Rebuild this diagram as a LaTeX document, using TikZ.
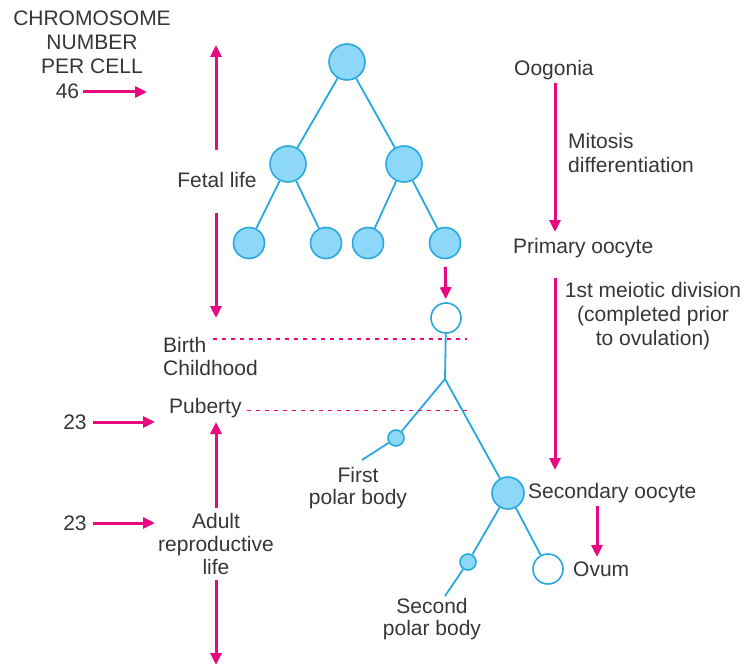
\documentclass[tikz,border=0pt]{standalone}
\usepackage{fontspec}
\setmainfont{Liberation Sans}
\usetikzlibrary{arrows.meta}
\definecolor{pinkc}{HTML}{E6097F}
\definecolor{bluel}{HTML}{29A8E0}
\definecolor{bluef}{HTML}{8DD8F8}
\definecolor{txt}{HTML}{363636}
\begin{document}
\begin{tikzpicture}[x=1pt,y=-1pt,
  lbl/.style={font=\fontsize{21}{23}\selectfont, text=txt, inner sep=0pt, anchor=base},
  lblw/.style={lbl, anchor=base west},
  cell/.style={circle, draw=bluel, line width=1.6pt, inner sep=0pt, fill=bluef},
  ecell/.style={cell, fill=white},
  link/.style={draw=bluel, line width=1.8pt},
  parrow/.style={draw=pinkc, line width=3pt, -{Triangle[length=12pt,width=11pt]}},
  pdash/.style={draw=pinkc, line width=1.6pt, dash pattern=on 4pt off 5pt}]
\useasboundingbox (0,0) rectangle (749,666);

% cells
\node[cell, minimum size=36pt] (c0) at (347,62) {};
\node[cell, minimum size=36pt] (c1) at (288,164) {};
\node[cell, minimum size=36pt] (c2) at (404,164) {};
\node[cell, minimum size=31pt] (c3) at (249,243) {};
\node[cell, minimum size=31pt] (c4) at (326,243) {};
\node[cell, minimum size=31pt] (c5) at (368,243) {};
\node[cell, minimum size=31pt] (c6) at (445,243) {};
\node[ecell, minimum size=30pt] (o1) at (446,318) {};
\node[cell, minimum size=16pt] (p1) at (396,438) {};
\node[cell, minimum size=32pt] (s2) at (508,493) {};
\node[cell, minimum size=16pt] (p2) at (468,562) {};
\node[ecell, minimum size=30pt] (ov) at (548,569) {};
\coordinate (j1) at (445,379);
\coordinate (e1) at (362,460);
\coordinate (e2) at (445,596);

\draw[link] (c0) -- (c1);
\draw[link] (c0) -- (c2);
\draw[link] (c1) -- (c3);
\draw[link] (c1) -- (c4);
\draw[link] (c2) -- (c5);
\draw[link] (c2) -- (c6);
\draw[link] (o1) -- (j1) -- (p1);
\draw[link] (p1) -- (e1);
\draw[link] (j1) -- (s2);
\draw[link] (s2) -- (p2);
\draw[link] (p2) -- (e2);
\draw[link] (s2) -- (ov);
\draw[parrow, shorten <=7.5pt, shorten >=3pt] (c6) -- (o1);

% left labels
\node[lbl, align=center] (chr) at (92,74) {CHROMOSOME\\[1pt]NUMBER\\[1pt]PER CELL};
\node[lbl] (n46) at (67.5,99) {46};
\coordinate (t46) at (147,92);
\draw[parrow] ([xshift=4pt]n46.east |- t46) -- (t46);

\node[lbl] (fetal) at (217,187) {Fetal life};
\coordinate (fa0) at (216,150);
\coordinate (fa1) at (216,45);
\coordinate (fb0) at (216,213);
\coordinate (fb1) at (216,318);
\draw[parrow] (fa0) -- (fa1);
\draw[parrow] (fb0) -- (fb1);

\node[lblw] (birth) at (163,352) {Birth};
\node[lblw] (child) at (163,375) {Childhood};
\coordinate (d1e) at (467,339);
\draw[pdash] ([xshift=6pt]birth.east |- d1e) -- (d1e);

\node[lblw] (pub) at (169,413) {Puberty};
\coordinate (d2e) at (467,410.5);
\draw[pdash] ([xshift=5pt]pub.east |- d2e) -- (d2e);

\node[lbl] (n23a) at (75,429) {23};
\coordinate (t23a) at (155,422);
\draw[parrow] ([xshift=6pt]n23a.east |- t23a) -- (t23a);
\node[lbl] (n23b) at (75,530) {23};
\coordinate (t23b) at (155,523);
\draw[parrow] ([xshift=6pt]n23b.east |- t23b) -- (t23b);

\node[lbl, align=center] (adult) at (216,574) {Adult\\reproductive\\life};
\coordinate (aa0) at (216,508);
\coordinate (aa1) at (216,422);
\coordinate (ab0) at (216,580);
\coordinate (ab1) at (216,665);
\draw[parrow] (aa0) -- (aa1);
\draw[parrow] (ab0) -- (ab1);

% tree labels
\node[lbl, align=center] (fpb) at (358,504) {First\\[-1pt]polar body};
\node[lbl, align=center] (spb) at (432,635) {Second\\[-1pt]polar body};

% right labels
\node[lblw] (oog) at (514,76) {Oogonia};
\node[lblw, align=left] (mit) at (568,172) {Mitosis\\[1pt]differentiation};
\node[lblw] (prim) at (513,253) {Primary oocyte};
\node[lbl, align=center] (mei) at (653,345) {1st meiotic division\\[1pt](completed prior\\[1pt]to ovulation)};
\node[lblw] (seco) at (528,498) {Secondary oocyte};
\node[lblw] (ovum) at (573,576) {Ovum};

\coordinate (r0) at (555,83);
\coordinate (r1) at (555,232);
\coordinate (r2) at (555,278);
\coordinate (r3) at (555,470);
\coordinate (r4) at (597,506);
\coordinate (r5) at (597,557);
\draw[parrow] (r0) -- (r1);
\draw[parrow] (r2) -- (r3);
\draw[parrow] (r4) -- (r5);
\end{tikzpicture}
\end{document}
